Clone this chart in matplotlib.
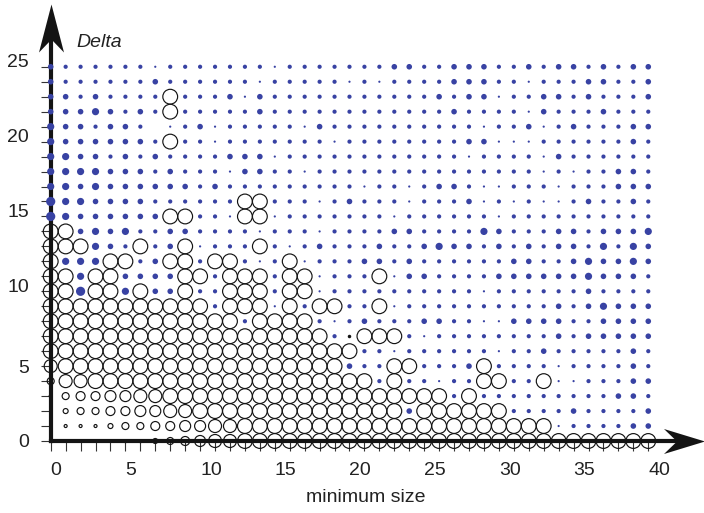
import numpy as np
import matplotlib
matplotlib.use('Agg')
import matplotlib.pyplot as plt
from matplotlib.path import Path
from matplotlib.transforms import ScaledTranslation

plt.rcParams['font.family'] = ['Liberation Sans', 'DejaVu Sans']

# ---- data ----
# x = minimum size 0..40, y = Delta 0..25
# one string per Delta value (25 at top), one char per minimum size:
#   '0' nothing, '1'-'5' blue dot (small -> large), 'a'-'g' open circle (small -> large),
#   'k' small black dot
min_size = np.arange(0, 41)
delta = np.arange(25, -1, -1)
cells = [
    "322222212222222" "122222223322333" "22323323233",   # 25
    "322222232222221" "222221212222333" "22122233223",   # 24
    "33232222g222313" "222222222223233" "12233232223",   # 23
    "33343232g222223" "222222222222322" "22132223222",   # 22
    "433233201231222" "221322222222221" "22312322233",   # 21
    "43333332g221222" "222212222222233" "11122222232",   # 20
    "443323232222333" "122222222222212" "22213222222",   # 19
    "444433323222133" "221222222222222" "22212122332",   # 18
    "443433333323222" "222222122123321" "12221222333",   # 17
    "5443333222222gg" "222123222122231" "21211232232",   # 16
    "54333333gg221gg" "122222221222222" "12222222222",   # 15
    "gg3434223322221" "222122223322224" "32223323334",   # 14
    "ggg432g23g1222g" "212322232234332" "32323324243",   # 13
    "g444gg23gg2gg21" "2g1222332322222" "23322343343",   # 12
    "gg4gg3333gg2ggg" "2gg1222g1332222" "33333343332",   # 11
    "gg5gg4g33g22ggg" "2gg122222222221" "22222232222",   # 10
    "ggggggggggg2ggg" "1g2gg22g1222222" "22223234333",   # 9
    "ggggggggggggg2g" "ggg212322233221" "13333223333",   # 8
    "ggggggggggggggg" "gggg2kggg212222" "22223233333",   # 7
    "ggggggggggggggg" "gggggg221222222" "12232222232",   # 6
    "fgggggggggggggg" "ggggg322gg2223g" "22221222232",   # 5
    "cffgggggggggggg" "ggggggg2g22122g" "g22g1122233",   # 4
    "acddeeffggggggg" "gggggggggggg2g2" "22222222332",   # 3
    "0bccddeeffggggg" "ggggggggg3ggggg" "g2222322223",   # 2
    "0aaabccddeeffgg" "ggggggggggggggg" "gggg1222233",   # 1
    "00000kkbcdeffgg" "ggggggggggggggg" "ggggggggggg",   # 0
]
x_ticks = [0, 5, 10, 15, 20, 25, 30, 35, 40]
y_ticks = [0, 5, 10, 15, 20, 25]

# marker diameters in px
dot_px = {'1': 2.2, '2': 4.2, '3': 5.6, '4': 7.2, '5': 9.2}
ring_px = {'a': 3, 'b': 5, 'c': 7, 'd': 9, 'e': 11, 'f': 13, 'g': 14.8}

BLUE = '#3842a3'
INK = '#141414'

dx, dy, ds = [], [], []
rx, ry, rs = [], [], []
kx, ky = [], []
for yv, row in zip(delta, cells):
    for xv, ch in zip(min_size, row):
        if ch in dot_px:
            dx.append(xv); dy.append(yv); ds.append((dot_px[ch] * 0.72) ** 2)
        elif ch in ring_px:
            rx.append(xv); ry.append(yv); rs.append((ring_px[ch] * 0.72) ** 2)
        elif ch == 'k':
            kx.append(xv); ky.append(yv)

fig = plt.figure(figsize=(7.04, 5.13), dpi=100)
ax = fig.add_axes([0, 0, 1, 1])
ax.set_xlim(-3.394, 43.73)
ax.set_ylim(-4.81, 29.46)

ax.scatter(rx, ry, s=rs, facecolors='none', edgecolors=INK, linewidths=0.85, zorder=3)
ax.scatter(kx, ky, s=(3.5 * 0.72) ** 2, color=INK, linewidths=0, zorder=3)
ax.scatter(dx, dy, s=ds, color=BLUE, linewidths=0, zorder=4)

# ---- axes with arrows ----
for s in ['top', 'right']:
    ax.spines[s].set_visible(False)
for s in ['left', 'bottom']:
    sp = ax.spines[s]
    sp.set_position(('data', 0))
    sp.set_linewidth(3.0)
    sp.set_color(INK)
    sp.set_capstyle('projecting')
    sp.set_zorder(2)
ax.spines['left'].set_bounds(0, 27.6)
ax.spines['bottom'].set_bounds(0, 42.4)

head_x = Path([(20.5, 0), (-20.5, 12.5), (-7.5, 0), (-20.5, -12.5), (20.5, 0)],
              [Path.MOVETO, Path.LINETO, Path.LINETO, Path.LINETO, Path.CLOSEPOLY])
head_y = Path([(0, 24), (-12.5, -24), (0, -11), (12.5, -24), (0, 24)],
              [Path.MOVETO, Path.LINETO, Path.LINETO, Path.LINETO, Path.CLOSEPOLY])
ax.plot([42.36], [0], marker=head_x, markersize=41 * 0.72, color=INK,
        markeredgewidth=0, clip_on=False, zorder=5)
ax.plot([0], [27.6], marker=head_y, markersize=48 * 0.72, color=INK,
        markeredgewidth=0, clip_on=False, zorder=5)

ax.set_xticks(x_ticks)
ax.set_xticks(min_size, minor=True)
ax.set_yticks(y_ticks)
ax.set_yticks(delta, minor=True)
ax.set_xticklabels([str(v) for v in x_ticks])
ax.set_yticklabels([str(v) for v in y_ticks])
ax.tick_params(which='both', direction='out', length=7, width=0.8, color='#333333')
ax.tick_params(axis='x', labelsize=14, pad=8, labelcolor='#222222')
ax.tick_params(axis='y', labelsize=14, pad=8.5, labelcolor='#222222')
for lab in ax.get_xticklabels():
    lab.set_horizontalalignment('left')
for lab, v in zip(ax.get_yticklabels(), y_ticks):
    if v >= 10:
        lab.set_transform(lab.get_transform() +
                          ScaledTranslation(0, 6 / 100, fig.dpi_scale_trans))

ax.text(0.108, 0.918, 'Delta', transform=ax.transAxes, fontsize=14,
        style='italic', ha='left', va='center', color='#222222')
ax.text(0.519, 0.031, 'minimum size', transform=ax.transAxes, fontsize=14,
        ha='center', va='center', color='#222222')

fig.savefig('out.png', dpi=100)
